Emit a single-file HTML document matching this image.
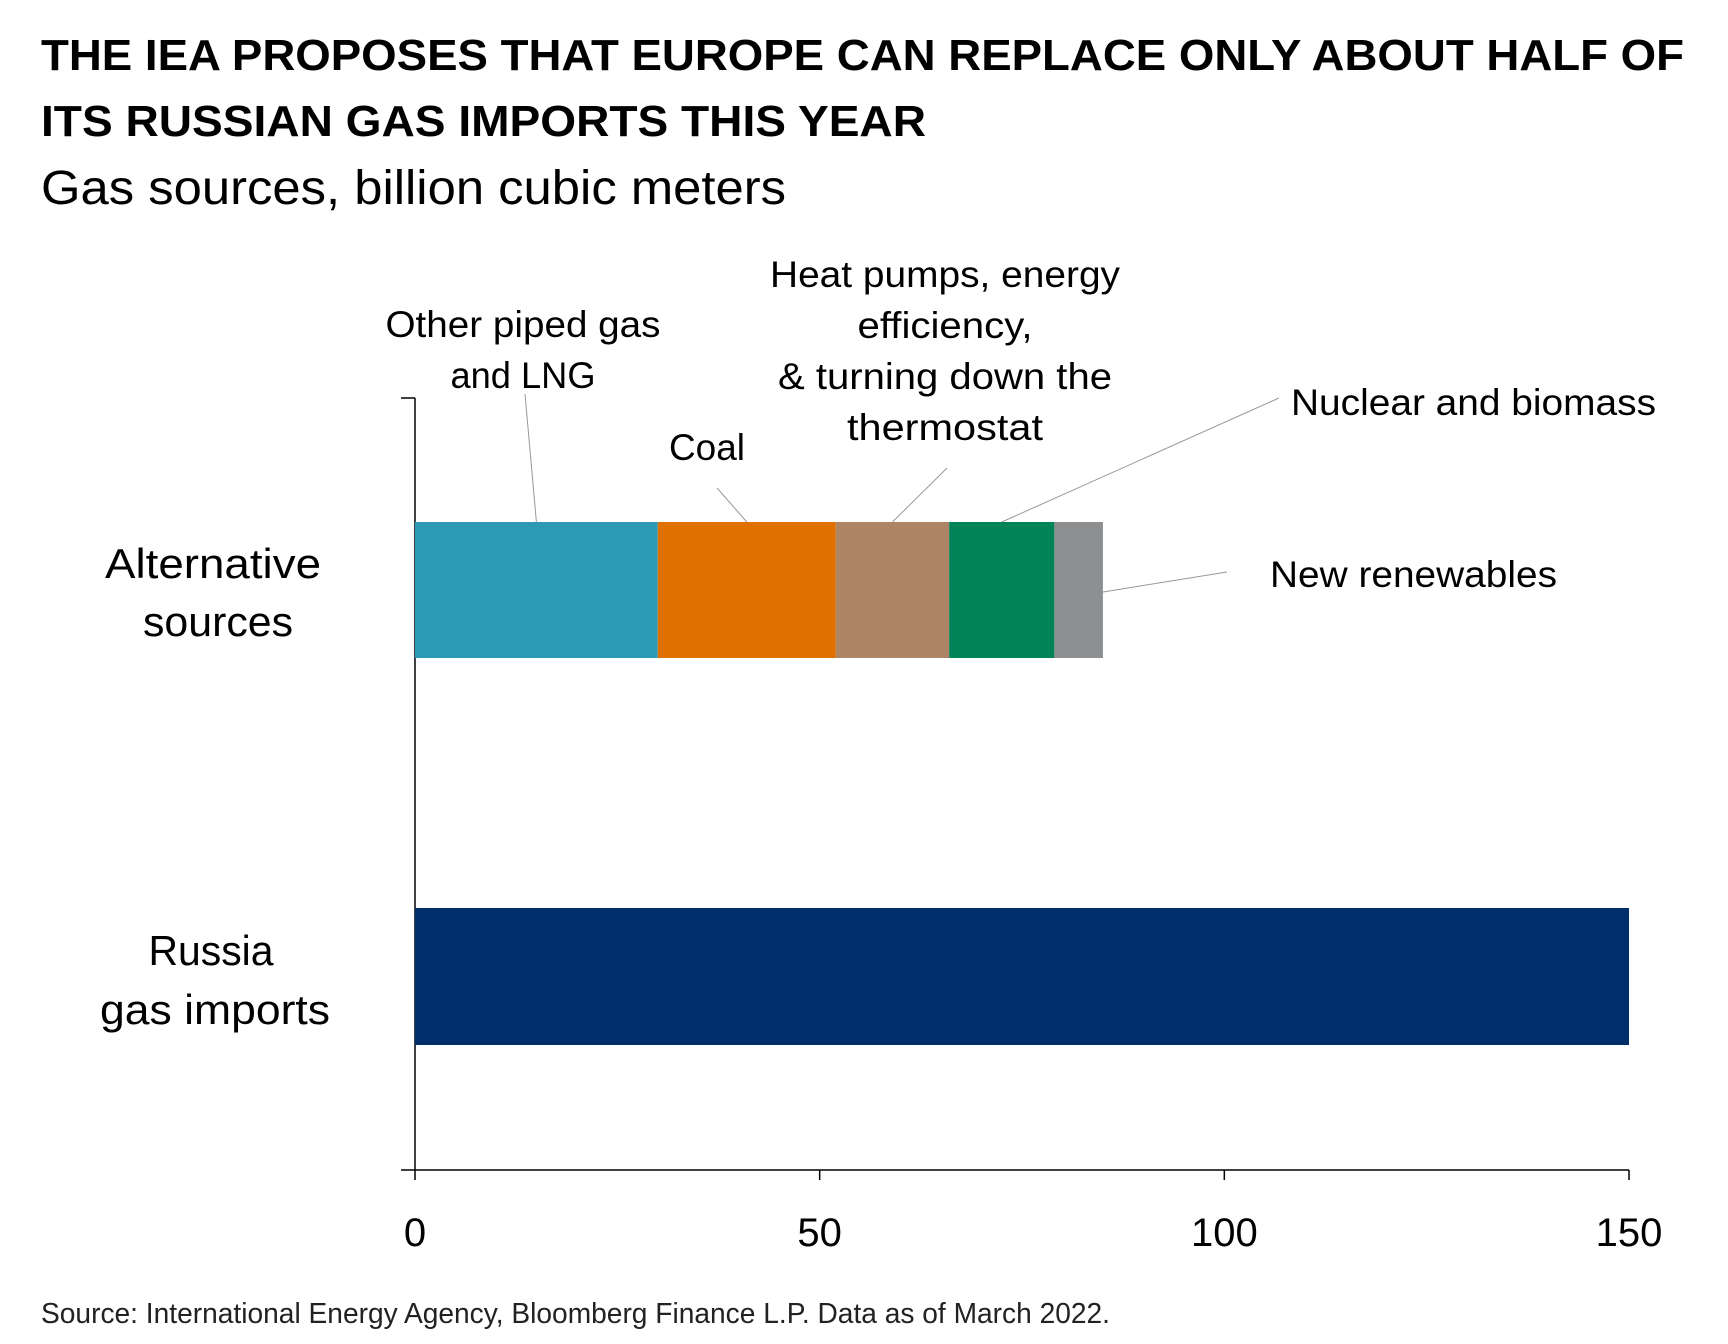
<!DOCTYPE html>
<html><head><meta charset="utf-8"><style>
html,body{margin:0;padding:0;background:#fff;}
svg{display:block;font-family:"Liberation Sans",sans-serif;}
</style></head><body>
<svg id="chart" width="1728" height="1344" viewBox="0 0 1728 1344" xmlns="http://www.w3.org/2000/svg">
<text x="41" y="70" font-size="44" font-weight="bold" textLength="1643" lengthAdjust="spacingAndGlyphs">THE IEA PROPOSES THAT EUROPE CAN REPLACE ONLY ABOUT HALF OF</text>
<text x="41" y="136" font-size="44" font-weight="bold" textLength="885" lengthAdjust="spacingAndGlyphs">ITS RUSSIAN GAS IMPORTS THIS YEAR</text>
<text x="41" y="204" font-size="48" textLength="745" lengthAdjust="spacingAndGlyphs">Gas sources, billion cubic meters</text>
<g id="plot"></g>
<text x="41" y="1323" font-size="29" fill="#222" textLength="1069" lengthAdjust="spacingAndGlyphs">Source: International Energy Agency, Bloomberg Finance L.P. Data as of March 2022.</text>
</svg>
<script>
const segmentNames = ["Other piped gas and LNG","Coal","Heat pumps, energy efficiency, & turning down the thermostat","Nuclear and biomass","New renewables"];
const segmentValues = [30, 22, 14, 13, 6];
const russiaValue = [150];
const tickValues = [0, 50, 100, 150];
const tickLabels = ["0","50","100","150"];
const colors = ["#2c9ab4","#e07000","#ae8564","#008457","#8e8f91"];

const NS="http://www.w3.org/2000/svg";
const plot=document.getElementById('plot');
const X0=415, X1=1629, xMax=150;
const AY=1170;
const x=v=>X0+(X1-X0)*v/xMax;
function mk(tag,attrs,parent){const e=document.createElementNS(NS,tag);for(const k in attrs)e.setAttribute(k,attrs[k]);(parent||plot).appendChild(e);return e;}

let a=mk('line',{x1:X0,y1:398,x2:X0,y2:AY,stroke:'#000','stroke-width':1.5});


a=mk('line',{x1:401,y1:398,x2:X0,y2:398,stroke:'#000','stroke-width':1.5});


a=mk('line',{x1:401,y1:AY,x2:X1,y2:AY,stroke:'#000','stroke-width':1.5});


tickValues.forEach((v,i)=>{
  const t=mk('line',{x1:x(v),y1:AY,x2:x(v),y2:AY+10,stroke:'#000','stroke-width':1.5});
  
  
  const l=mk('text',{x:x(v),y:1246,'font-size':40,'text-anchor':'middle'});
  l.textContent=tickLabels[i];
  
  
});

const B1y=522,B1h=136;
let cum=0; const mids=[];
segmentValues.forEach((v,i)=>{
  const r=mk('rect',{x:x(cum),y:B1y,width:x(cum+v)-x(cum),height:B1h,fill:colors[i]});
  
  
  mids.push(x(cum+v/2)); cum+=v;
});
const endX=x(cum);
const r2=mk('rect',{x:x(0),y:908,width:x(russiaValue[0])-x(0),height:137,fill:'#002f6c'});



const leaders=[[525,394,mids[0],B1y],[717,488,mids[1],B1y],[947,468,mids[2],B1y],[1279,398,mids[3],B1y],[1227,572,endX,592]];
leaders.forEach(p=>{
  const l=mk('line',{x1:p[0],y1:p[1],x2:p[2],y2:p[3],stroke:'#999','stroke-width':1});
  
  
});

function txt(s,xx,yy,size,len,anchor,name){
  const t=mk('text',{x:xx,y:yy,'font-size':size,'text-anchor':anchor,textLength:len,lengthAdjust:'spacingAndGlyphs'});
  t.textContent=s;
  
  
}
txt("Other piped gas",523,337,37,275,'middle','annotation-other-piped-gas');
txt("and LNG",523,388,37,145,'middle','annotation-other-piped-gas');
txt("Coal",707,460,37,76,'middle','annotation-coal');
txt("Heat pumps, energy",945,287,37,350,'middle','annotation-heat-pumps');
txt("efficiency,",945,338,37,175,'middle','annotation-heat-pumps');
txt("& turning down the",945,389,37,334,'middle','annotation-heat-pumps');
txt("thermostat",945,440,37,196,'middle','annotation-heat-pumps');
txt("Nuclear and biomass",1291,415,37,365,'start','annotation-nuclear-biomass');
txt("New renewables",1270,587,37,287,'start','annotation-new-renewables');
txt("Alternative",213,578,42,216,'middle','category-label-alternative');
txt("sources",218,636,42,150,'middle','category-label-alternative');
txt("Russia",211,965,42,125,'middle','category-label-russia');
txt("gas imports",215,1024,42,230,'middle','category-label-russia');
</script>
</body></html>
